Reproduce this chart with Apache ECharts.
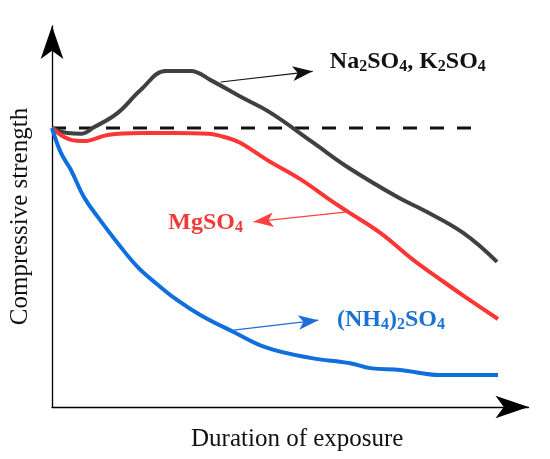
<!DOCTYPE html>
<html>
<head>
<meta charset="utf-8">
<script src="https://cdn.jsdelivr.net/npm/echarts@6/dist/echarts.min.js"></script>
<style>
html,body{margin:0;padding:0;background:#fff;}
#chart{width:550px;height:459px;}
</style>
</head>
<body>
<div id="chart"></div>
<script>
// schematic curves, x = duration (0..100), y = strength (0..100)
var naK_x = [0, 3.35, 6.07, 8.8, 13.8, 18.6, 23.9, 29.1, 33.3, 39.6, 45.9, 54.9, 62.0, 72.5, 77.9, 86.3, 93.4];
var naK_y = [73.2, 71.9, 71.7, 73.4, 77.2, 83.2, 88.2, 88.2, 85.8, 81.4, 77.2, 69.3, 63.0, 55.1, 51.7, 45.7, 38.1];
var mg_x = [0, 3.98, 6.7, 11.7, 18.6, 25.5, 32.7, 36.9, 39.6, 45.2, 52.1, 58.4, 61.9, 68.9, 75.8, 80.8, 86.7, 93.6];
var mg_y = [73.2, 70.1, 69.8, 71.4, 71.9, 71.9, 71.7, 70.6, 69.3, 64.8, 59.8, 54.3, 51.4, 45.7, 38.6, 34.1, 28.9, 23.1];
var nh4_x = [0, 1.88, 3.98, 6.7, 9.6, 13.8, 18.0, 21.8, 26.0, 31.2, 38.1, 45.2, 54.2, 62.6, 66.8, 73.1, 81.5, 93.6];
var nh4_y = [73.2, 66.7, 62.2, 55.1, 49.9, 43.0, 36.7, 32.5, 28.3, 24.1, 19.7, 15.5, 12.9, 11.5, 10.2, 9.7, 8.4, 8.4];
// reference (initial strength) level
var refLevel = 73.2;
var refEnd = 89.4;
// pointer arrows [from, to] and label anchors
var naK_arrow = [[35.4, 85.3], [54.7, 88.1]];
var mg_arrow = [[62.0, 51.2], [42.3, 48.6]];
var nh4_arrow = [[38.1, 20.2], [55.9, 22.8]];
var naK_label = [58.2, 90.6];
var mg_label = [24.3, 48.3];
var nh4_label = [59.7, 22.8];

function pairs(xs, ys) {
    var out = [];
    for (var i = 0; i < xs.length; i++) out.push([xs[i], ys[i]]);
    return out;
}
function richStyle(color) {
    return {
        n: {fontFamily: 'Liberation Serif', fontWeight: 'bold', fontSize: 24, color: color, lineHeight: 26},
        s: {fontFamily: 'Liberation Serif', fontWeight: 'bold', fontSize: 16, color: color, lineHeight: 5, verticalAlign: 'bottom'}
    };
}
function arrowLine(a, color) {
    return {
        silent: true,
        symbol: ['none', 'arrow'],
        symbolSize: [11, 20],
        label: {show: false},
        lineStyle: {color: color, width: 1.2, type: 'solid'},
        emphasis: {disabled: true},
        data: [[{coord: a[0]}, {coord: a[1]}]]
    };
}
function tag(pos, text, color) {
    return {
        silent: true,
        symbol: 'circle',
        symbolSize: 1,
        itemStyle: {color: 'rgba(0,0,0,0)'},
        label: {show: true, position: 'right', distance: 0, formatter: text, rich: richStyle(color)},
        data: [{coord: pos}]
    };
}

var chart = echarts.init(document.getElementById('chart'));
var axisBase = {
    type: 'value', min: 0, max: 100,
    axisLine: {show: true, lineStyle: {color: '#000', width: 1.3}, symbol: ['none', 'arrow'], symbolSize: [17, 33]},
    axisTick: {show: false}, axisLabel: {show: false}, splitLine: {show: false},
    nameLocation: 'middle'
};
chart.setOption({
    animation: false,
    backgroundColor: '#fff',
    grid: {left: 51, right: 21.5, top: 26, bottom: 52},
    xAxis: Object.assign({}, axisBase, {
        name: 'Duration of exposure', nameGap: 20,
        nameTextStyle: {fontFamily: 'Liberation Serif', fontSize: 25, color: '#111', padding: [0, 0, 0, 14]}
    }),
    yAxis: Object.assign({}, axisBase, {
        name: 'Compressive strength', nameGap: 19, nameRotate: 90,
        nameTextStyle: {fontFamily: 'Liberation Serif', fontSize: 25, color: '#111'}
    }),
    series: [
        {
            type: 'line', data: [[0, refLevel], [refEnd, refLevel]], showSymbol: false, silent: true,
            lineStyle: {color: '#111', width: 3, type: [14, 13]}
        },
        {
            type: 'line', data: pairs(naK_x, naK_y), smooth: 0.4, showSymbol: false, silent: true,
            lineStyle: {color: '#404040', width: 4},
            markLine: arrowLine(naK_arrow, '#111'),
            markPoint: tag(naK_label, '{n|Na}{s|2}{n|SO}{s|4}{n|, K}{s|2}{n|SO}{s|4}', '#111')
        },
        {
            type: 'line', data: pairs(mg_x, mg_y), smooth: 0.4, showSymbol: false, silent: true,
            lineStyle: {color: '#ff3535', width: 4},
            markLine: arrowLine(mg_arrow, '#ff4040'),
            markPoint: tag(mg_label, '{n|MgSO}{s|4}', '#f03a3a')
        },
        {
            type: 'line', data: pairs(nh4_x, nh4_y), smooth: 0.4, showSymbol: false, silent: true,
            lineStyle: {color: '#0f6fdc', width: 4},
            markLine: arrowLine(nh4_arrow, '#1a6fd8'),
            markPoint: tag(nh4_label, '{n|(NH}{s|4}{n|)}{s|2}{n|SO}{s|4}', '#1a72d2')
        }
    ]
});
</script>
</body>
</html>
